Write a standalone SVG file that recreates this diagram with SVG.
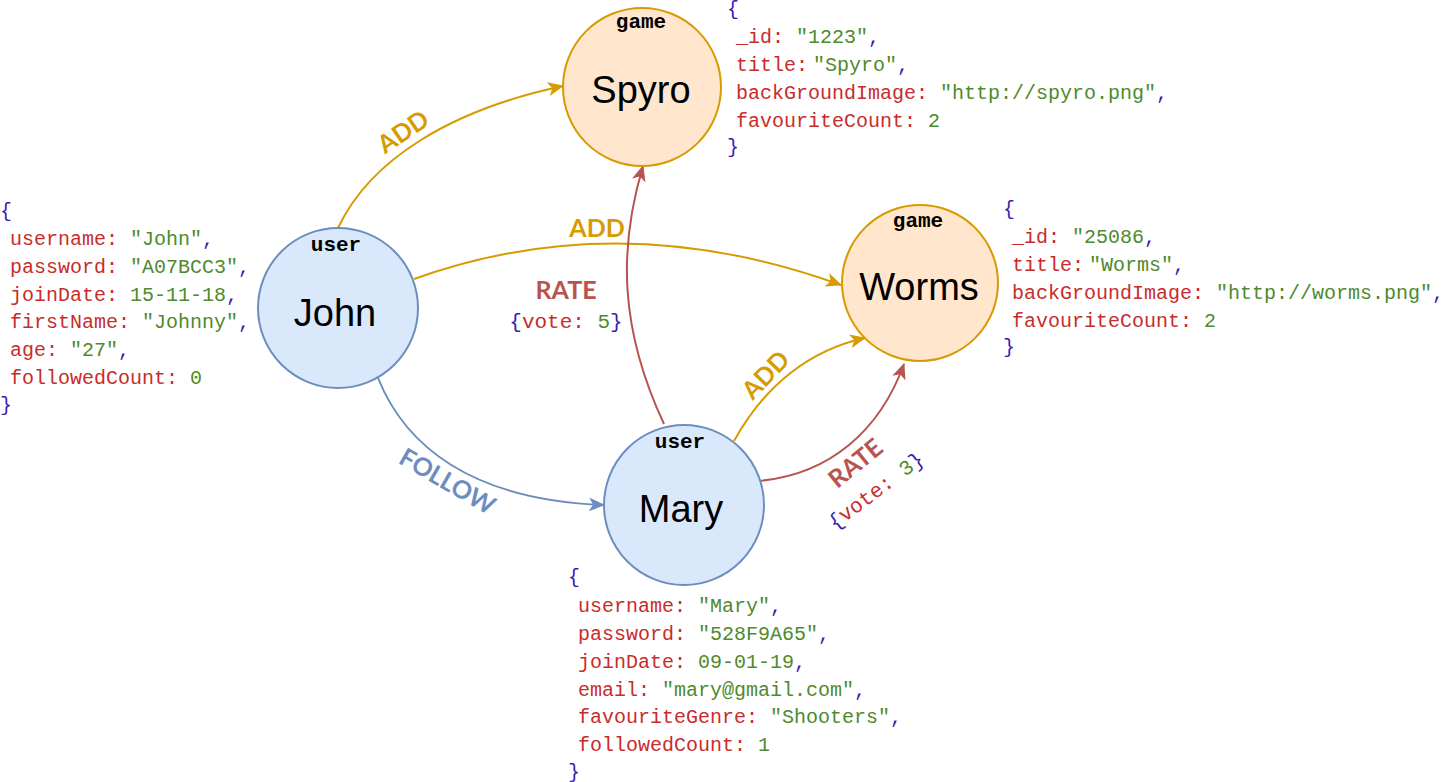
<svg xmlns="http://www.w3.org/2000/svg" width="1443" height="782" viewBox="0 0 1443 782">
<style>
.user{fill:#dae8fc;stroke:#6c8ebf;stroke-width:2}
.game{fill:#ffe6cc;stroke:#d79b00;stroke-width:2}
.type{font-family:"Liberation Mono","Courier New",monospace;font-weight:bold;font-size:21px;fill:#000;text-anchor:middle}
.name{font-family:"Liberation Sans",Arial,sans-serif;font-size:38px;fill:#000;text-anchor:middle}
.json{font-family:"Liberation Mono","DejaVu Sans Mono",monospace;font-size:20px}
.k{fill:#c92c2c}
.v{fill:#4e8a2e}
.p{fill:#3a1db0}
.e{fill:none;stroke-width:2}
.add{stroke:#d79b00}
.rate{stroke:#b85450}
.fol{stroke:#6c8ebf}
.lbl{font-family:Lato,"Open Sans",sans-serif;font-weight:bold;font-size:25px;text-anchor:middle}
.vote{font-family:"Liberation Mono","DejaVu Sans Mono",monospace;font-size:21px;text-anchor:middle}
</style>
<defs>
<marker id="aAdd" viewBox="0 0 16 14" refX="15" refY="7" markerWidth="16" markerHeight="14" markerUnits="userSpaceOnUse" orient="auto"><path d="M0,0 L16,7 L0,14 L4,7 Z" fill="#d79b00"/></marker>
<marker id="aRate" viewBox="0 0 16 14" refX="15" refY="7" markerWidth="16" markerHeight="14" markerUnits="userSpaceOnUse" orient="auto"><path d="M0,0 L16,7 L0,14 L4,7 Z" fill="#b85450"/></marker>
<marker id="aFol" viewBox="0 0 16 14" refX="15" refY="7" markerWidth="16" markerHeight="14" markerUnits="userSpaceOnUse" orient="auto"><path d="M0,0 L16,7 L0,14 L4,7 Z" fill="#6c8ebf"/></marker>
</defs>
<rect width="1443" height="782" fill="#fff"/>

<g id="connectors">
<path class="e add" d="M338,228 C370,160 450,110 563,86" marker-end="url(#aAdd)"/>
<path class="e add" d="M414,279 Q620,205 841,285" marker-end="url(#aAdd)"/>
<path class="e rate" d="M664,424 C620,330 618,250 643,166" marker-end="url(#aRate)"/>
<path class="e add" d="M734,441 C765,385 810,350 865,338" marker-end="url(#aAdd)"/>
<path class="e rate" d="M758,481 C830,475 880,430 904,364" marker-end="url(#aRate)"/>
<path class="e fol" d="M378,378 C405,445 470,500 604,505" marker-end="url(#aFol)"/>
<text class="lbl" fill="#d79b00" transform="translate(408,139) rotate(-34)">ADD</text>
<text class="lbl" fill="#d79b00" x="597" y="237">ADD</text>
<text class="lbl" fill="#b85450" x="566" y="299">RATE</text>
<text class="vote" x="566" y="328"><tspan class="p">{</tspan><tspan class="k">vote: </tspan><tspan class="v">5</tspan><tspan class="p">}</tspan></text>
<text class="lbl" fill="#d79b00" transform="translate(772,381) rotate(-46)">ADD</text>
<text class="lbl" fill="#b85450" transform="translate(861,470) rotate(-39)">RATE</text>
<text class="vote" transform="translate(880,496) rotate(-37)"><tspan class="p">{</tspan><tspan class="k">vote: </tspan><tspan class="v">3</tspan><tspan class="p">}</tspan></text>
<text class="lbl" fill="#6c8ebf" transform="translate(443,489) rotate(30)">FOLLOW</text>
</g>

<g id="john">
<circle class="user" cx="338" cy="308" r="80"/>
<text class="type" x="336" y="251">user</text>
<text class="name" x="335" y="326">John</text>
</g>
<g id="spyro">
<circle class="game" cx="642" cy="87" r="79"/>
<text class="type" x="641" y="28">game</text>
<text class="name" x="641" y="103">Spyro</text>
</g>
<g id="worms">
<circle class="game" cx="920" cy="283" r="78"/>
<text class="type" x="918" y="227">game</text>
<text class="name" x="919" y="300">Worms</text>
</g>
<g id="mary">
<circle class="user" cx="684" cy="505" r="80"/>
<text class="type" x="680" y="448">user</text>
<text class="name" x="681" y="522">Mary</text>
</g>

<g id="john-json" class="json">
<text class="p" x="0" y="217">{</text>
<text x="10" y="245"><tspan class="k">username: </tspan><tspan class="v">"John"</tspan><tspan class="p">,</tspan></text>
<text x="10" y="273"><tspan class="k">password: </tspan><tspan class="v">"A07BCC3"</tspan><tspan class="p">,</tspan></text>
<text x="10" y="301"><tspan class="k">joinDate: </tspan><tspan class="v">15-11-18</tspan><tspan class="p">,</tspan></text>
<text x="10" y="328"><tspan class="k">firstName: </tspan><tspan class="v">"Johnny"</tspan><tspan class="p">,</tspan></text>
<text x="10" y="356"><tspan class="k">age: </tspan><tspan class="v">"27"</tspan><tspan class="p">,</tspan></text>
<text x="10" y="384"><tspan class="k">followedCount: </tspan><tspan class="v">0</tspan></text>
<text class="p" x="0" y="411">}</text>
</g>

<g id="spyro-json" class="json">
<text class="p" x="727" y="15">{</text>
<text x="736" y="43"><tspan class="k">_id: </tspan><tspan class="v">"1223"</tspan><tspan class="p">,</tspan></text>
<text x="736" y="71"><tspan class="k">title:</tspan><tspan class="v" dx="5">"Spyro"</tspan><tspan class="p">,</tspan></text>
<text x="736" y="99"><tspan class="k">backGroundImage: </tspan><tspan class="v">"http://spyro.png"</tspan><tspan class="p">,</tspan></text>
<text x="736" y="127"><tspan class="k">favouriteCount: </tspan><tspan class="v">2</tspan></text>
<text class="p" x="727" y="153">}</text>
</g>

<g id="worms-json" class="json">
<text class="p" x="1003" y="215">{</text>
<text x="1012" y="243"><tspan class="k">_id: </tspan><tspan class="v">"25086</tspan><tspan class="p">,</tspan></text>
<text x="1012" y="271"><tspan class="k">title:</tspan><tspan class="v" dx="5">"Worms"</tspan><tspan class="p">,</tspan></text>
<text x="1012" y="299"><tspan class="k">backGroundImage: </tspan><tspan class="v">"http://worms.png"</tspan><tspan class="p">,</tspan></text>
<text x="1012" y="327"><tspan class="k">favouriteCount: </tspan><tspan class="v">2</tspan></text>
<text class="p" x="1003" y="353">}</text>
</g>

<g id="mary-json" class="json">
<text class="p" x="568" y="583">{</text>
<text x="578" y="612"><tspan class="k">username: </tspan><tspan class="v">"Mary"</tspan><tspan class="p">,</tspan></text>
<text x="578" y="640"><tspan class="k">password: </tspan><tspan class="v">"528F9A65"</tspan><tspan class="p">,</tspan></text>
<text x="578" y="668"><tspan class="k">joinDate: </tspan><tspan class="v">09-01-19</tspan><tspan class="p">,</tspan></text>
<text x="578" y="696"><tspan class="k">email: </tspan><tspan class="v">"mary@gmail.com"</tspan><tspan class="p">,</tspan></text>
<text x="578" y="723"><tspan class="k">favouriteGenre: </tspan><tspan class="v">"Shooters"</tspan><tspan class="p">,</tspan></text>
<text x="578" y="751"><tspan class="k">followedCount: </tspan><tspan class="v">1</tspan></text>
<text class="p" x="568" y="778">}</text>
</g>
</svg>
